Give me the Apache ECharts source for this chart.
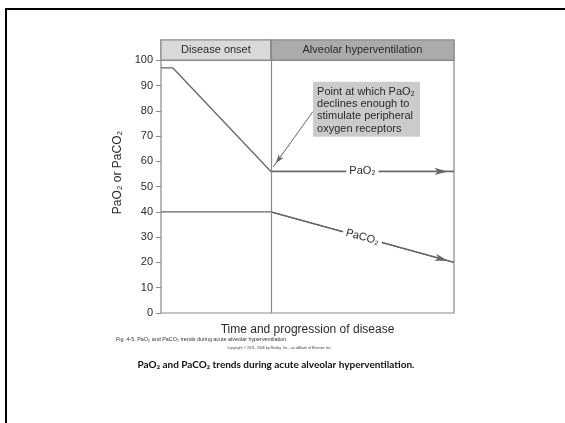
<!DOCTYPE html>
<html>
<head>
<meta charset="utf-8">
<script src="https://cdn.jsdelivr.net/npm/echarts@6/dist/echarts.min.js"></script>
<style>html,body{margin:0;padding:0;background:#fff;}#c{width:565px;height:423px;}</style>
</head>
<body>
<div id="c"></div>
<script>
// ---- data ----
const phaseNames = ['Disease onset', 'Alveolar hyperventilation'];
const phaseBounds = [0, 37.5, 100];
const pao2X = [0, 4, 37.5, 100];
const pao2Y = [97, 97, 56, 56];
const paco2X = [0, 37.5, 100];
const paco2Y = [40, 40, 20];
const yTicks = [0, 10, 20, 30, 40, 50, 60, 70, 80, 90, 100];
const seriesNames = ['PaO₂', 'PaCO₂'];
const yAxisTitle = 'PaO₂ or PaCO₂';
const xAxisTitle = 'Time and progression of disease';
const noteLines = ['Point at which PaO₂', 'declines enough to', 'stimulate peripheral', 'oxygen receptors'];
const figCaption = 'Fig. 4-5. PaO₂ and PaCO₂ trends during acute alveolar hyperventilation.';
const copyrightText = 'Copyright © 2011, 2006 by Mosby, Inc., an affiliate of Elsevier Inc.';
const slideCaption = 'PaO₂ and PaCO₂ trends during acute alveolar hyperventilation.';

// annotation placement (data coordinates)
const yTop = 108;
const noteBox = [[51.9, 91.5], [88.4, 69.7]];
const noteArrow = [[51.8, 79.6], [38.3, 57.8]];

const lineColor = '#666666';
const frameColor = '#8a8a8a';
const textColor = '#2a2a2a';

const zip = (xs, ys) => xs.map((x, i) => [x, ys[i]]);
const pao2 = zip(pao2X, pao2Y);
const paco2 = zip(paco2X, paco2Y);
const last = a => a.length - 1;

const arrowEnd = (pt, w, h) => ({ coord: pt, symbol: 'arrow', symbolSize: [w, h], symbolOffset: [0, h / 2] });

const chart = echarts.init(document.getElementById('c'), null, { renderer: 'canvas' });
chart.setOption({
  animation: false,
  backgroundColor: '#fff',
  grid: { left: 161, right: 111, top: 40, bottom: 110, show: true, borderColor: frameColor, borderWidth: 1.2, backgroundColor: 'transparent' },
  xAxis: {
    type: 'value', min: phaseBounds[0], max: phaseBounds[2],
    axisLine: { show: false }, axisTick: { show: false }, axisLabel: { show: false }, splitLine: { show: false },
    name: xAxisTitle, nameLocation: 'middle', nameGap: 11,
    nameTextStyle: { fontFamily: 'Liberation Sans', fontSize: 12, color: textColor, verticalAlign: 'top' }
  },
  yAxis: {
    type: 'value', min: 0, max: yTop, interval: 10,
    axisLine: { show: false },
    axisTick: { show: true, length: 5, lineStyle: { color: frameColor, width: 1 }, customValues: yTicks },
    axisLabel: { fontFamily: 'Liberation Sans', fontSize: 11, color: textColor, margin: 8, customValues: yTicks,
      formatter: v => (v > 100 ? '' : String(v)) },
    splitLine: { show: false },
    name: yAxisTitle, nameLocation: 'middle', nameGap: 26, nameRotate: 90,
    nameTextStyle: { fontFamily: 'Liberation Sans', fontSize: 12, color: textColor, padding: [0, 0, 0, 8] }
  },
  series: [
    {
      name: seriesNames[0], type: 'line', data: pao2, symbol: 'none', silent: true,
      lineStyle: { color: lineColor, width: 1.3 }, z: 3,
      markLine: {
        silent: true, symbol: ['none', 'none'], animation: false,
        lineStyle: { color: lineColor, width: 1.3, type: 'solid' },
        data: [
          [ { coord: pao2[last(pao2) - 1] }, arrowEnd(pao2[last(pao2)], 5.5, 13) ]
        ],
        label: { show: true, position: 'insideMiddle', formatter: seriesNames[0], backgroundColor: '#fff',
          padding: [1, 3], fontFamily: 'Liberation Sans', fontSize: 11, color: textColor }
      }
    },
    {
      name: seriesNames[1], type: 'line', data: paco2, symbol: 'none', silent: true,
      lineStyle: { color: lineColor, width: 1.3 }, z: 3,
      markLine: {
        silent: true, symbol: ['none', 'none'], animation: false,
        lineStyle: { color: lineColor, width: 1.3, type: 'solid' },
        data: [
          [ { coord: paco2[last(paco2) - 1] }, arrowEnd(paco2[last(paco2)], 5.5, 13) ]
        ],
        label: { show: true, position: 'insideMiddle', formatter: seriesNames[1], backgroundColor: '#fff',
          padding: [1, 3], fontFamily: 'Liberation Sans', fontSize: 11, color: textColor }
      }
    },
    {
      name: 'frame', type: 'line', data: [], silent: true, z: 2,
      markArea: {
        silent: true,
        data: [
          [ { coord: [phaseBounds[0], 100], itemStyle: { color: '#d9d9d9' }, label: { formatter: phaseNames[0] } },
            { coord: [phaseBounds[1], yTop] } ],
          [ { coord: [phaseBounds[1], 100], itemStyle: { color: '#ababab' }, label: { formatter: phaseNames[1] } },
            { coord: [phaseBounds[2], yTop] } ],
          [ { coord: noteBox[0], itemStyle: { color: '#cbcbcb', borderWidth: 0 },
              label: { formatter: noteLines.join('\n'), position: 'insideTopLeft', distance: 4, lineHeight: 12.3,
                fontSize: 11, align: 'left' } },
            { coord: noteBox[1] } ]
        ],
        itemStyle: { borderColor: frameColor, borderWidth: 1.2 },
        label: { show: true, position: 'inside', fontFamily: 'Liberation Sans', fontSize: 11, color: textColor }
      },
      markLine: {
        silent: true, symbol: ['none', 'none'], animation: false,
        lineStyle: { color: frameColor, width: 1.2, type: 'solid' },
        label: { show: false },
        data: [
          { xAxis: phaseBounds[1] },
          { yAxis: 100 },
          [ { coord: noteArrow[0], lineStyle: { color: lineColor, width: 1 } }, arrowEnd(noteArrow[1], 4.5, 9) ]
        ]
      }
    }
  ],
  graphic: [
    { type: 'line', shape: { x1: 5, y1: 9, x2: 565, y2: 9 }, style: { stroke: '#000', lineWidth: 2 }, silent: true },
    { type: 'line', shape: { x1: 6, y1: 8, x2: 6, y2: 423 }, style: { stroke: '#000', lineWidth: 2 }, silent: true },
    { type: 'text', left: 116, top: 337, silent: true,
      style: { text: figCaption, font: '5.4px "Liberation Sans"', fill: '#333' } },
    { type: 'text', left: 227, top: 345.5, silent: true,
      style: { text: copyrightText, font: '3.6px "Liberation Sans"', fill: '#444' } },
    { type: 'text', x: 276, y: 365, silent: true,
      style: { text: slideCaption, font: 'bold 10px Lato', fill: '#111', align: 'center', verticalAlign: 'middle' } }
  ]
});
</script>
</body>
</html>
